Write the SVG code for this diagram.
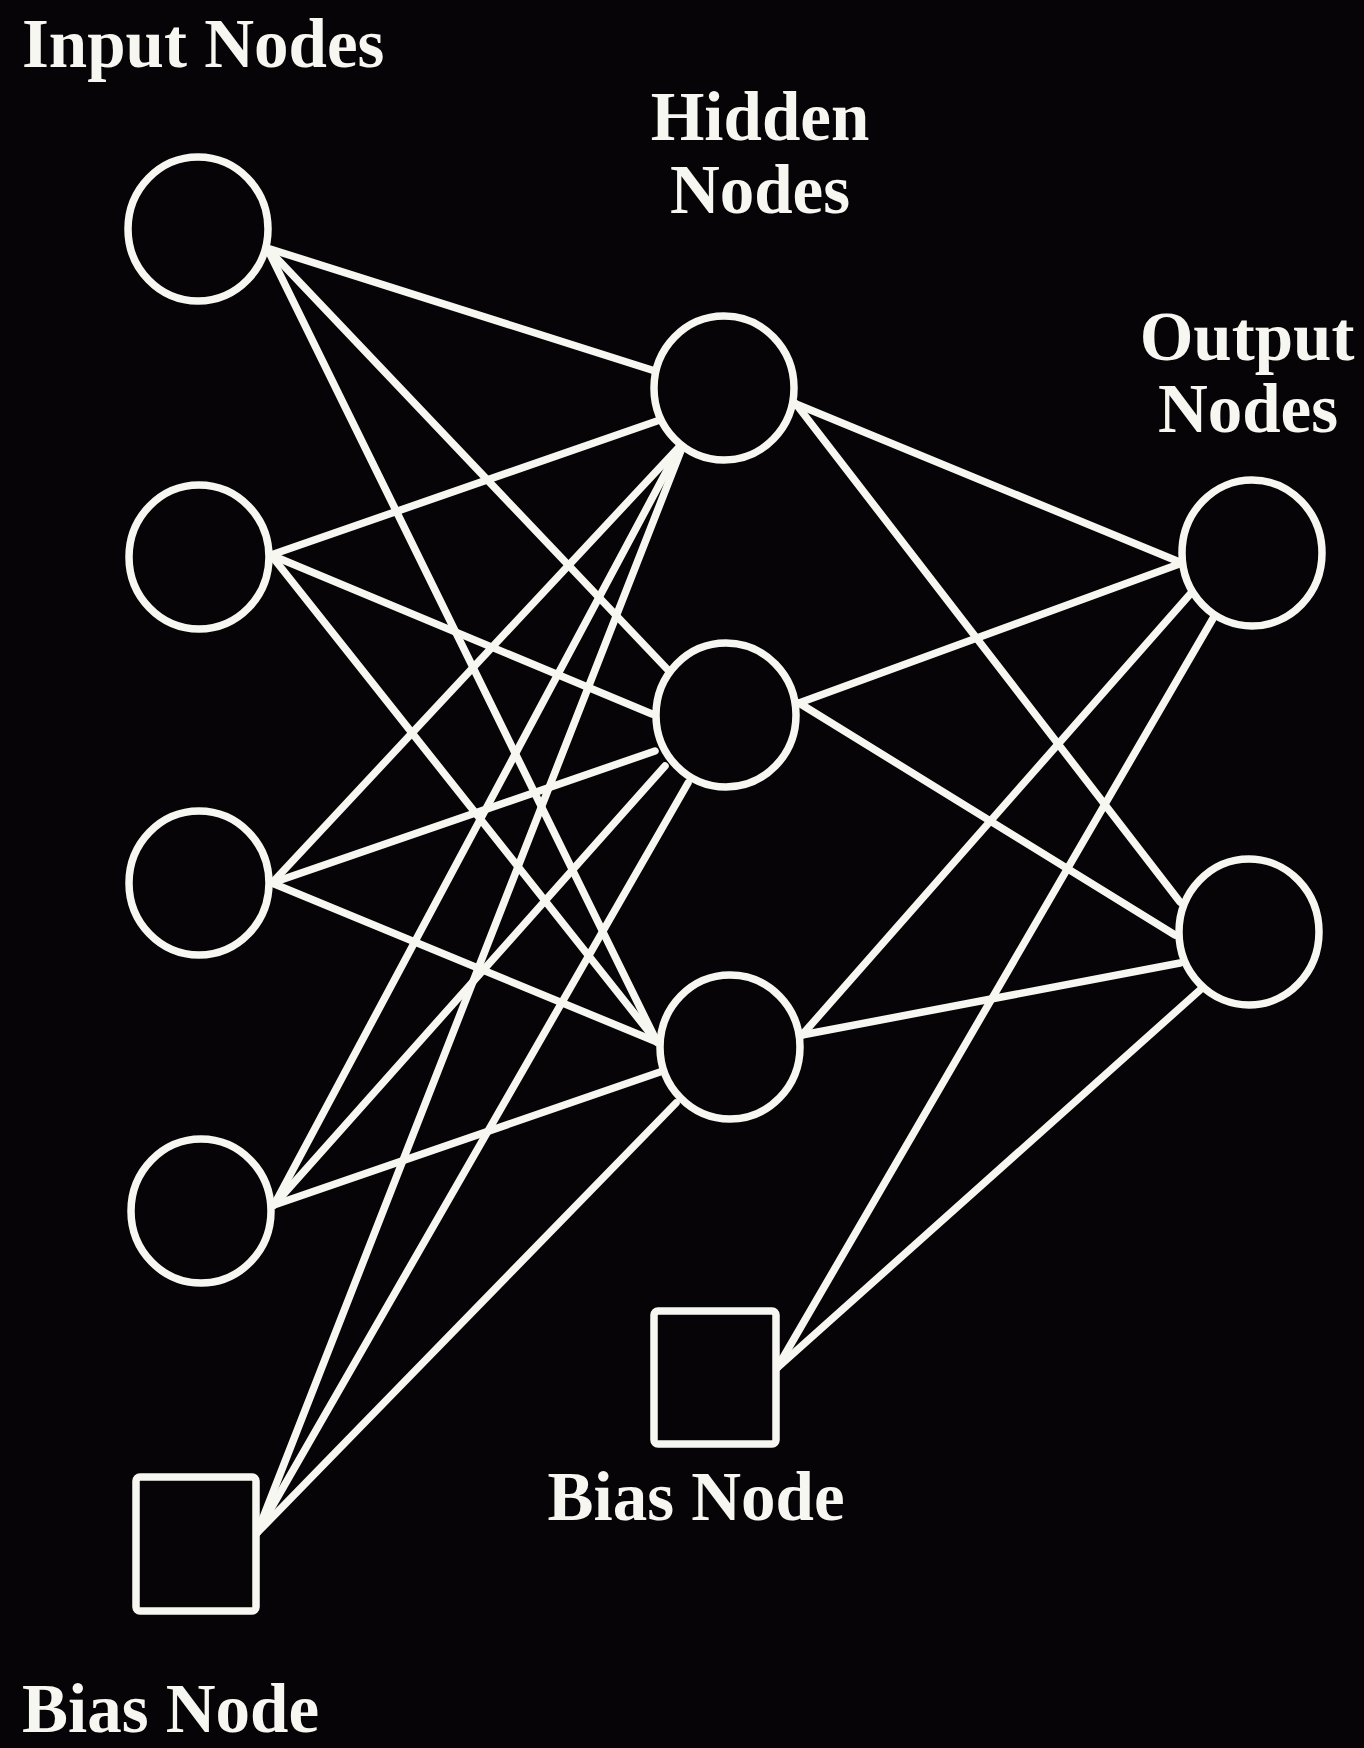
<svg xmlns="http://www.w3.org/2000/svg" width="1364" height="1748" viewBox="0 0 1364 1748">
<style>
.bg{fill:#060406}
.edge{stroke:#f7f7f2;stroke-width:7.5;stroke-linecap:round;fill:none}
.node{fill:#060406;stroke:#f7f7f2;stroke-width:7.5}
.lbl{font-family:"Liberation Serif","Times New Roman",serif;font-weight:bold;font-size:69px;fill:#f7f7f2}
</style>
<rect class="bg" x="0" y="0" width="1364" height="1748"/>
<g id="connectors">
<line class="edge" x1="267" y1="248" x2="655" y2="371"/>
<line class="edge" x1="267" y1="248" x2="668" y2="670"/>
<line class="edge" x1="267" y1="248" x2="657" y2="1042"/>
<line class="edge" x1="271" y1="555" x2="657" y2="421"/>
<line class="edge" x1="271" y1="555" x2="652" y2="714"/>
<line class="edge" x1="271" y1="555" x2="657" y2="1042"/>
<line class="edge" x1="272" y1="883" x2="680" y2="446"/>
<line class="edge" x1="272" y1="883" x2="655" y2="751"/>
<line class="edge" x1="272" y1="883" x2="657" y2="1042"/>
<line class="edge" x1="274" y1="1205" x2="680" y2="446"/>
<line class="edge" x1="274" y1="1205" x2="665" y2="766"/>
<line class="edge" x1="274" y1="1205" x2="660" y2="1072"/>
<line class="edge" x1="257" y1="1533" x2="682" y2="448"/>
<line class="edge" x1="257" y1="1533" x2="688" y2="783"/>
<line class="edge" x1="257" y1="1533" x2="676" y2="1103"/>
<line class="edge" x1="796" y1="404" x2="1182" y2="563"/>
<line class="edge" x1="796" y1="404" x2="1180" y2="902"/>
<line class="edge" x1="799" y1="703" x2="1182" y2="563"/>
<line class="edge" x1="799" y1="703" x2="1175" y2="935"/>
<line class="edge" x1="802" y1="1035" x2="1192" y2="592"/>
<line class="edge" x1="802" y1="1035" x2="1180" y2="963"/>
<line class="edge" x1="777" y1="1368" x2="1215" y2="615"/>
<line class="edge" x1="777" y1="1368" x2="1200" y2="990"/>
</g>
<g id="input1"><ellipse class="node" cx="198" cy="229" rx="70" ry="72"/></g>
<g id="input2"><ellipse class="node" cx="199" cy="557" rx="70" ry="72"/></g>
<g id="input3"><ellipse class="node" cx="199" cy="883" rx="70" ry="72"/></g>
<g id="input4"><ellipse class="node" cx="201" cy="1211" rx="70" ry="72"/></g>
<g id="bias1"><rect class="node" x="136" y="1477" width="120" height="134" rx="4"/></g>
<g id="hidden1"><ellipse class="node" cx="724" cy="388" rx="70" ry="72"/></g>
<g id="hidden2"><ellipse class="node" cx="726" cy="715" rx="70" ry="72"/></g>
<g id="hidden3"><ellipse class="node" cx="730" cy="1047" rx="70" ry="72"/></g>
<g id="bias2"><rect class="node" x="654" y="1311" width="122" height="133" rx="4"/></g>
<g id="output1"><ellipse class="node" cx="1252" cy="553" rx="70" ry="73"/></g>
<g id="output2"><ellipse class="node" cx="1249" cy="932" rx="70" ry="73"/></g>
<g id="labels">
<text class="lbl" x="22" y="67">Input Nodes</text>
<text class="lbl" x="760" y="140" text-anchor="middle">Hidden</text>
<text class="lbl" x="760" y="213" text-anchor="middle">Nodes</text>
<text class="lbl" x="1247" y="360" text-anchor="middle">Output</text>
<text class="lbl" x="1248" y="432" text-anchor="middle">Nodes</text>
<text class="lbl" x="696" y="1520" text-anchor="middle">Bias Node</text>
<text class="lbl" x="22" y="1732">Bias Node</text>
</g>
</svg>
